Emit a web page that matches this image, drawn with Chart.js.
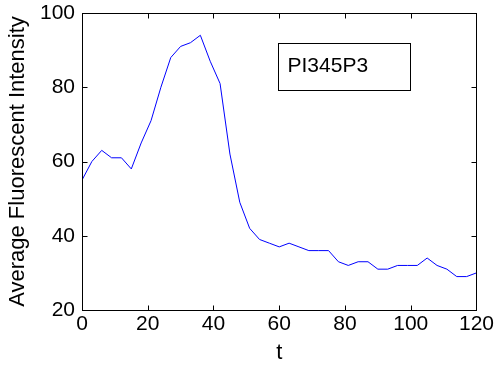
<!DOCTYPE html>
<html>
<head>
<meta charset="utf-8">
<script src="https://cdn.jsdelivr.net/npm/chart.js@4/dist/chart.umd.min.js"></script>
<style>
  html, body { margin: 0; padding: 0; background: #fff; }
  #wrap { width: 496px; height: 370px; }
</style>
</head>
<body>
<div id="wrap"><canvas id="c" width="496" height="370"></canvas></div>
<script>
const times = [0, 3, 6, 9, 12, 15, 18, 21, 24, 27, 30, 33, 36, 39, 42, 45, 48, 51, 54, 57,
               60, 63, 66, 69, 72, 75, 78, 81, 84, 87, 90, 93, 96, 99, 102, 105, 108, 111, 114, 117, 120];
const intensity = [55, 60, 63, 61, 61, 58, 65, 71, 80, 88, 91, 92, 94, 87, 81, 62, 49, 42, 39, 38,
                   37, 38, 37, 36, 36, 36, 33, 32, 33, 33, 31, 31, 32, 32, 32, 34, 32, 31, 29, 29, 30];
const xTicks = [0, 20, 40, 60, 80, 100, 120];
const yTicks = [20, 40, 60, 80, 100];
const seriesName = 'PI345P3';
const xTitle = 't';
const yTitle = 'Average Fluorescent Intensity';

const FONT = '"Liberation Sans", Arial, Helvetica, sans-serif';

const framePlugin = {
  id: 'frame',
  afterDraw(chart) {
    const { ctx, chartArea: a, scales } = chart;
    const x = scales.x, y = scales.y;
    ctx.save();
    ctx.strokeStyle = '#000';
    ctx.lineWidth = 1;
    const L = Math.round(a.left) + 0.5, R = Math.round(a.right) + 0.5;
    const T = Math.round(a.top) + 0.5, B = Math.round(a.bottom) + 0.5;
    ctx.strokeRect(L, T, R - L, B - T);
    const tl = 5;
    ctx.beginPath();
    xTicks.forEach(v => {
      const px = Math.round(x.getPixelForValue(v)) + 0.5;
      ctx.moveTo(px, B); ctx.lineTo(px, B - tl);
      ctx.moveTo(px, T); ctx.lineTo(px, T + tl);
    });
    yTicks.forEach(v => {
      const py = Math.round(y.getPixelForValue(v)) + 0.5;
      ctx.moveTo(L, py); ctx.lineTo(L + tl, py);
      ctx.moveTo(R, py); ctx.lineTo(R - tl, py);
    });
    ctx.stroke();
    // legend box
    const bx = Math.round(a.left + 196) + 0.5, by = Math.round(a.top + 30) + 0.5;
    const bw = 132, bh = 47;
    ctx.fillStyle = '#fff';
    ctx.fillRect(bx, by, bw, bh);
    ctx.strokeRect(bx, by, bw, bh);
    ctx.fillStyle = '#000';
    ctx.font = '21px ' + FONT;
    ctx.textBaseline = 'middle';
    ctx.textAlign = 'left';
    ctx.fillText(seriesName, bx + 9, by + 23);
    ctx.restore();
  }
};

new Chart(document.getElementById('c'), {
  type: 'line',
  data: {
    datasets: [{
      label: seriesName,
      data: times.map((t, i) => ({ x: t, y: intensity[i] })),
      borderColor: '#0000ff',
      borderWidth: 1,
      pointRadius: 0,
      tension: 0,
      fill: false
    }]
  },
  options: {
    responsive: false,
    animation: false,
    devicePixelRatio: 1,
    layout: { padding: { left: 0, right: 19, top: 0, bottom: 0 } },
    plugins: { legend: { display: false }, tooltip: { enabled: false } },
    scales: {
      x: {
        type: 'linear',
        min: 0, max: 120,
        afterBuildTicks(s) { s.ticks = xTicks.map(v => ({ value: v })); },
        afterFit(s) { s.height = 60; },
        grid: { display: false, drawTicks: false },
        border: { display: false },
        ticks: { color: '#000', font: { family: FONT, size: 21 }, padding: 2, maxRotation: 0, autoSkip: false },
        title: { display: true, text: xTitle, color: '#000', font: { family: FONT, size: 22 }, padding: { top: 0, bottom: 4 } }
      },
      y: {
        type: 'linear',
        min: 20, max: 100,
        afterBuildTicks(s) { s.ticks = yTicks.map(v => ({ value: v })); },
        afterFit(s) { s.width = 82; s.paddingTop = 13; s.paddingBottom = 0; },
        grid: { display: false, drawTicks: false },
        border: { display: false },
        ticks: { color: '#000', font: { family: FONT, size: 21 }, padding: 7, autoSkip: false },
        title: { display: true, text: yTitle, color: '#000', font: { family: FONT, size: 22 }, padding: { top: 5, bottom: 0 } }
      }
    }
  },
  plugins: [framePlugin]
});
</script>
</body>
</html>
